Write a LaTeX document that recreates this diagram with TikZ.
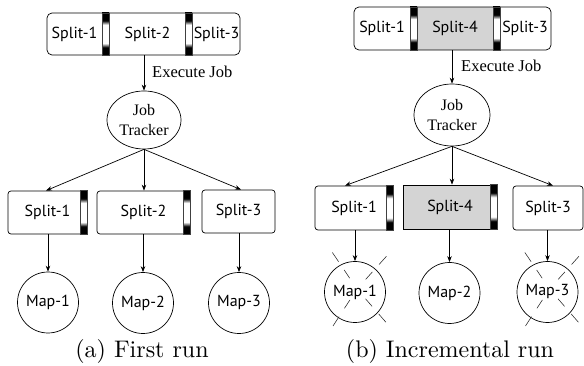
\documentclass[tikz,border=0pt]{standalone}
\usepackage{fontspec}
\newfontfamily\boxfont{PT Sans}
\newfontfamily\serifa{Liberation Serif}
\newfontfamily\capfont{lmroman10-regular.otf}
\usetikzlibrary{arrows.meta,shapes.geometric}
\definecolor{splitgray}{RGB}{212,212,212}
\pgfdeclareverticalshading{barshade}{100bp}{color(0bp)=(black); color(34bp)=(black); color(39bp)=(white); color(61bp)=(white); color(66bp)=(black); color(100bp)=(black)}
\tikzset{
  sbox/.style={draw, line width=0.7pt, rounded corners=3pt, minimum height=43pt, inner sep=0pt, font=\boxfont\fontsize{16}{19}\selectfont},
  topbar/.style={draw, line width=0.7pt, rounded corners=5pt, inner sep=0pt},
  stext/.style={inner sep=0pt, font=\boxfont\fontsize{16}{19}\selectfont},
  jt/.style={ellipse, draw, line width=0.7pt, inner sep=0pt, align=center, font=\serifa\fontsize{16}{20}\selectfont},
  mapc/.style={circle, draw, line width=0.7pt, minimum size=61pt, inner sep=0pt, font=\boxfont\fontsize{16}{19}\selectfont},
  arr/.style={-{Stealth[length=6pt,width=4.5pt]}, line width=0.7pt},
  splitbar/.style={shading=barshade, draw=black!75, line width=0.4pt},
  crossline/.style={line width=0.55pt, draw=black!85},
  exlabel/.style={anchor=west, inner sep=0pt, font=\serifa\fontsize{16.5}{20}\selectfont},
  captext/.style={anchor=base, inner sep=0pt, font=\capfont\fontsize{24}{28}\selectfont}
}
\begin{document}
\begin{tikzpicture}[x=1pt,y=-1pt]
\useasboundingbox (0,0) rectangle (584,366);

% ---------------- Left panel (a) ----------------
\node[topbar, minimum width=193pt, minimum height=42pt] (topL) at (143.5,34) {};
\node[stext] (tL1) at (74.5,34) {Split-1};
\node[stext] (tL2) at (147.5,34) {Split-2};
\node[stext] (tL3) at (216.5,34) {Split-3};
\path[splitbar] (102,13) rectangle (109,55);
\path[splitbar] (185,13) rectangle (192,55);

\node[jt, minimum width=74pt, minimum height=58pt] (JTL) at (144,120) {Job\\Tracker};
\draw[arr] (JTL.north |- topL.south) -- (JTL.north);
\node[exlabel] (exL) at (152,72) {Execute Job};

\node[sbox, minimum width=79pt] (LB1) at (47.5,212.5) {Split-1\hspace{7pt}};
\path[splitbar] ([xshift=-7pt]LB1.north east) rectangle (LB1.south east);
\node[sbox, minimum width=93pt] (LB2) at (143.5,212.5) {Split-2\hspace{7pt}};
\path[splitbar] ([xshift=-7pt]LB2.north east) rectangle (LB2.south east);
\node[sbox, minimum width=73pt] (LB3) at (238.5,211.5) {Split-3};

\draw[arr] (JTL.south) -- ([xshift=-1.5pt]LB1.north);
\draw[arr] (JTL.south) -- (LB2.north -| JTL.south);
\draw[arr] (JTL.south) -- ([xshift=2.5pt]LB3.north);

\node[mapc] (LM1) at (48,302.5) {Map-1};
\node[mapc] (LM2) at (143,303) {Map-2};
\node[mapc] (LM3) at (239,303) {Map-3};
\draw[arr] (LM1.north |- LB1.south) -- (LM1.north);
\draw[arr] (LM2.north |- LB2.south) -- (LM2.north);
\draw[arr] (LM3.north |- LB3.south) -- (LM3.north);

\node[captext] (capA) at (142,357) {(a) First run};

% ---------------- Right panel (b) ----------------
\fill[splitgray] (417,7) rectangle (493,50);
\node[topbar, minimum width=197pt, minimum height=43pt] (topR) at (452.5,28.5) {};
\node[stext] (tR1) at (382,28.5) {Split-1};
\node[stext] (tR2) at (455,28.5) {Split-4};
\node[stext] (tR3) at (525,28.5) {Split-3};
\path[splitbar] (410,7) rectangle (417,50);
\path[splitbar] (493,7) rectangle (500,50);

\node[jt, minimum width=76pt, minimum height=62pt] (JTR) at (452,115) {Job\\Tracker};
\draw[arr] (JTR.north |- topR.south) -- (JTR.north);
\node[exlabel] (exR) at (461,66) {Execute Job};

\node[sbox, minimum width=78pt, minimum height=44pt] (RB1) at (354,208) {Split-1\hspace{7pt}};
\path[splitbar] ([xshift=-7pt]RB1.north east) rectangle (RB1.south east);
\node[sbox, sharp corners, fill=splitgray, minimum width=94pt, minimum height=44pt] (RB2) at (450,207) {Split-4\hspace{7pt}};
\path[splitbar] ([xshift=-7pt]RB2.north east) rectangle (RB2.south east);
\node[sbox, minimum width=70pt, minimum height=44pt] (RB3) at (548,208) {Split-3};

\draw[arr] (JTR.south) -- ([xshift=-9pt]RB1.north);
\draw[arr] (JTR.south) -- (RB2.north -| JTR.south);
\draw[arr] (JTR.south) -- ([xshift=5pt]RB3.north);

\node[mapc] (RM1) at (355,292) {Map-1};
\node[mapc] (RM2) at (449.5,293) {Map-2};
\node[mapc] (RM3) at (547.5,292) {Map-3};
\draw[arr] (RM1.north |- RB1.south) -- (RM1.north);
\draw[arr] (RM2.north |- RB2.south) -- (RM2.north);
\draw[arr] (RM3.north |- RB3.south) -- (RM3.north);

\foreach \m in {RM1,RM3}{
  \foreach \a in {48,124,237,311}{
    \draw[crossline] ([shift={(2pt,3pt)}]\m.center) ++(\a:13pt) -- ++(\a:10pt);
    \draw[crossline] ([shift={(2pt,3pt)}]\m.center) ++(\a:33pt) -- ++(\a:11pt);
  }
}

\node[captext] (capB) at (450,357) {(b) Incremental run};
\end{tikzpicture}
\end{document}
